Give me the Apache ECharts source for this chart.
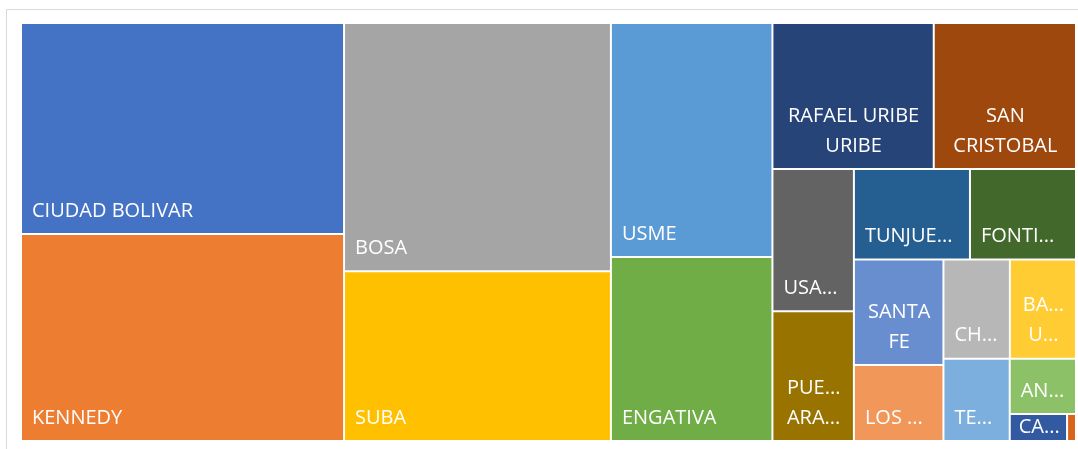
<!DOCTYPE html>
<html>
<head>
<meta charset="utf-8">
<script src="https://cdn.jsdelivr.net/npm/echarts@6/dist/echarts.min.js"></script>
<style>
  html, body { margin: 0; padding: 0; background: #fff; }
  #chart { width: 1078px; height: 449px; }
</style>
</head>
<body>
<div id="chart"></div>
<script>
// localidades, de mayor a menor
var districts = ['CIUDAD BOLIVAR', 'KENNEDY', 'BOSA', 'SUBA', 'USME', 'ENGATIVA',
  'RAFAEL URIBE URIBE', 'SAN CRISTOBAL', 'USAQUEN', 'PUENTE ARANDA', 'TUNJUELITO',
  'FONTIBON', 'SANTA FE', 'LOS MARTIRES', 'CHAPINERO', 'BARRIOS UNIDOS',
  'TEUSAQUILLO', 'ANTONIO NARIÑO', 'CANDELARIA', 'SUMAPAZ'];
var counts = [6762, 6633, 6570, 4495, 3751, 2946, 2335, 2059, 1150, 1049, 1044,
  954, 935, 676, 653, 650, 541, 363, 154, 24];
// texto de la etiqueta (con salto de linea donde Excel lo parte)
var labels = ['CIUDAD BOLIVAR', 'KENNEDY', 'BOSA', 'SUBA', 'USME', 'ENGATIVA',
  'RAFAEL URIBE\nURIBE', 'SAN\nCRISTOBAL', 'USAQUEN', 'PUENTE\nARANDA', 'TUNJUELITO',
  'FONTIBON', 'SANTA\nFE', 'LOS MARTIRES', 'CHAPINERO', 'BARRIOS\nUNIDOS',
  'TEUSAQUILLO', 'ANTONIO NARIÑO', 'CANDELARIA', 'SUMAPAZ'];
var colors = ['#4472C4', '#ED7D31', '#A5A5A5', '#FFC000', '#5B9BD5', '#70AD47',
  '#264478', '#9E480E', '#636363', '#997300', '#255E91', '#43682B',
  '#698ED0', '#F1975A', '#B7B7B7', '#FFCD33', '#7CAFDD', '#8CC168', '#335AA1', '#D9651C'];

var chart = echarts.init(document.getElementById('chart'));

var data = districts.map(function (name, i) {
  var multi = labels[i].indexOf('\n') >= 0;
  var label = {};
  if (multi) {
    label = { position: 'insideBottom', align: 'center', lineHeight: 30, offset: [0, -7] };
  } else if (counts[i] < 100) {
    label = { show: false };
  } else if (counts[i] < 200) {
    // cajas muy bajas: la etiqueta baja un poco y usa menos margen
    label = { padding: [0, 2, 0, 8], offset: [0, -1] };
  }
  return {
    name: name,
    value: counts[i],
    itemStyle: { color: colors[i] },
    label: label
  };
});

var option = {
  animation: false,
  graphic: [{
    type: 'rect',
    shape: { x: 6.5, y: 9.5, width: 1090, height: 460 },
    style: { fill: 'none', stroke: '#D9D9D9', lineWidth: 1 }
  }],
  series: [{
    type: 'treemap',
    left: 22,
    top: 24,
    width: 1053,
    height: 416,
    roam: false,
    nodeClick: false,
    squareRatio: 0.83,
    visibleMin: 0,
    breadcrumb: { show: false },
    label: {
      show: true,
      position: 'insideBottomLeft',
      distance: 0,
      padding: [0, 9, 0, 10],
      offset: [0, -10],
      color: '#fff',
      fontFamily: 'Open Sans',
      fontSize: 20,
      lineHeight: 24,
      overflow: 'truncate',
      ellipsis: '...',
      formatter: function (p) { return labels[districts.indexOf(p.name)]; }
    },
    levels: [
      { itemStyle: { borderWidth: 0, gapWidth: 2 } },
      { itemStyle: { borderWidth: 0 } }
    ],
    data: data
  }]
};

chart.setOption(option);
</script>
</body>
</html>
